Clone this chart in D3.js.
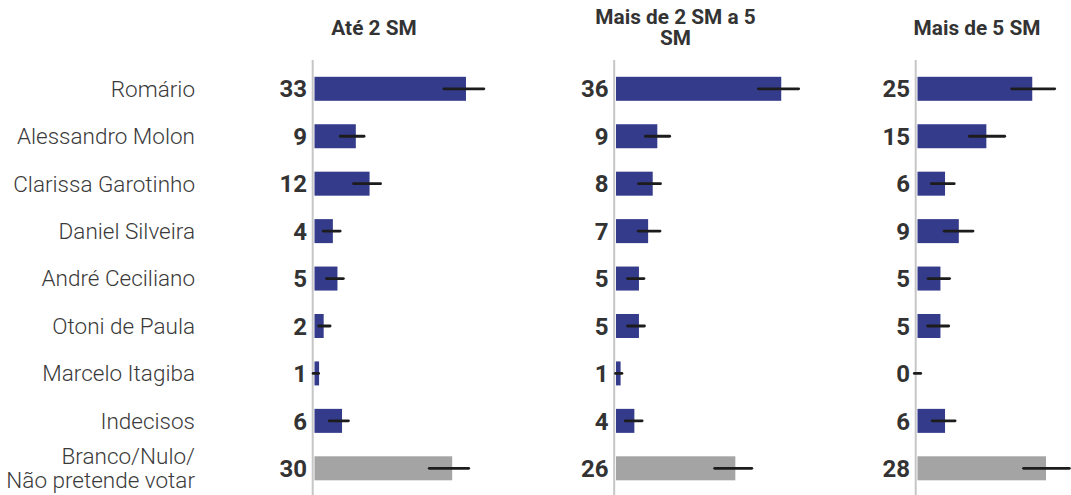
<!DOCTYPE html>
<html><head><meta charset="utf-8">
<script src="https://cdn.jsdelivr.net/npm/d3@7/dist/d3.min.js"></script>
<style>
body{margin:0;background:#fff;}
svg{display:block;font-family:Roboto, "Noto Sans", sans-serif;}
</style></head>
<body><svg id="chart" width="1071" height="495"></svg>
<script>
const categories = ["Romário","Alessandro Molon","Clarissa Garotinho","Daniel Silveira","André Ceciliano","Otoni de Paula","Marcelo Itagiba","Indecisos","Branco/Nulo/\nNão pretende votar"];
const panelTitles = ["Até 2 SM","Mais de 2 SM a 5 SM","Mais de 5 SM"];
const valuesAte2 = [33,9,12,4,5,2,1,6,30];
const values2a5 = [36,9,8,7,5,5,1,4,26];
const valuesMais5 = [25,15,6,9,5,5,0,6,28];
// error bar bounds (low, high)
const lowAte2  = [27.9,5.3,8.2,1.6,2.3,0.6,-0.6,2.9,24.7];
const highAte2 = [37.2,11.1,14.7,5.9,6.6,3.7,1.2,7.7,33.9];
const low2a5   = [30.7,6.1,4.6,4.5,2.2,2.2,-0.4,1.7,21.2];
const high2a5  = [40.1,12.0,10.0,9.9,6.4,6.5,1.6,6.0,29.9];
const lowMais5 = [20.2,11.0,2.7,5.5,2.0,1.9,-1.0,2.9,22.8];
const highMais5= [30.2,19.3,8.3,12.4,7.3,7.1,1.0,8.5,33.4];
const grayCategory = "Branco/Nulo/\nNão pretende votar";

const panels = [
  {title: panelTitles[0], values: valuesAte2, low: lowAte2, high: highAte2, titleLines:["Até 2 SM"]},
  {title: panelTitles[1], values: values2a5, low: low2a5, high: high2a5, titleLines:["Mais de 2 SM a 5","SM"]},
  {title: panelTitles[2], values: valuesMais5, low: lowMais5, high: highMais5, titleLines:["Mais de 5 SM"]}
];

const svg = d3.select("#chart");
const y = d3.scalePoint().domain(categories).range([88.8, 468.3]);
const barH = 24;
const x = d3.scaleLinear().domain([0, 40]).range([0, 183.6]);
const panelX = d3.scalePoint().domain(panelTitles).range([314.5, 917.5]);
const cap = 1.4;

// category labels
const lab = svg.append("g");
categories.forEach(c => {
  const lines = c.split("\n");
  const t = lab.append("text")
    .attr("x", 195).attr("y", y(c))
    .attr("text-anchor","end")
    .attr("font-size", 22.5).attr("font-weight", 300)
    .attr("fill", "#3a3a3a");
  const lh = 24;
  lines.forEach((l,i) => {
    t.append("tspan").attr("x",195)
      .attr("y", y(c) + (i - (lines.length-1)/2)*lh)
      .attr("dy","0.35em").text(l);
  });
});

panels.forEach(p => {
  const x0 = panelX(p.title);
  const g = svg.append("g").attr("transform", `translate(${x0},0)`);
  // title
  const tt = g.append("text").attr("text-anchor","middle")
    .attr("font-size",20.8).attr("font-weight",700).attr("fill","#333");
  const n = p.titleLines.length;
  p.titleLines.forEach((l,i) => {
    tt.append("tspan").attr("x", 59.5)
      .attr("y", 34.5 + (i - (n-1)/2)*21.7).text(l);
  });
  // axis line
  g.append("line").attr("x1",-1.8).attr("x2",-1.8).attr("y1",60).attr("y2",495)
    .attr("stroke","#c6c6c6").attr("stroke-width",2);
  // bars
  g.selectAll("rect.bar").data(categories).join("rect")
    .attr("x", 0).attr("y", c => y(c) - barH/2)
    .attr("width", (c,i) => x(p.values[i])).attr("height", barH)
    .attr("fill", c => c === grayCategory ? "#a4a4a4" : "#343b8b");
  // error bars
  g.selectAll("line.err").data(categories).join("line")
    .attr("x1", (c,i) => x(p.low[i]) + cap)
    .attr("x2", (c,i) => x(p.high[i]) - cap)
    .attr("y1", c => y(c)).attr("y2", c => y(c))
    .attr("stroke","#1c1c1c").attr("stroke-width",2.8).attr("stroke-linecap","round");
  // value labels
  g.selectAll("text.val").data(categories).join("text")
    .attr("x", -7.5).attr("y", c => y(c)).attr("dy","0.36em")
    .attr("text-anchor","end").attr("font-size",24).attr("font-weight",700)
    .attr("fill","#333").text((c,i) => p.values[i]);
});
</script></body></html>
